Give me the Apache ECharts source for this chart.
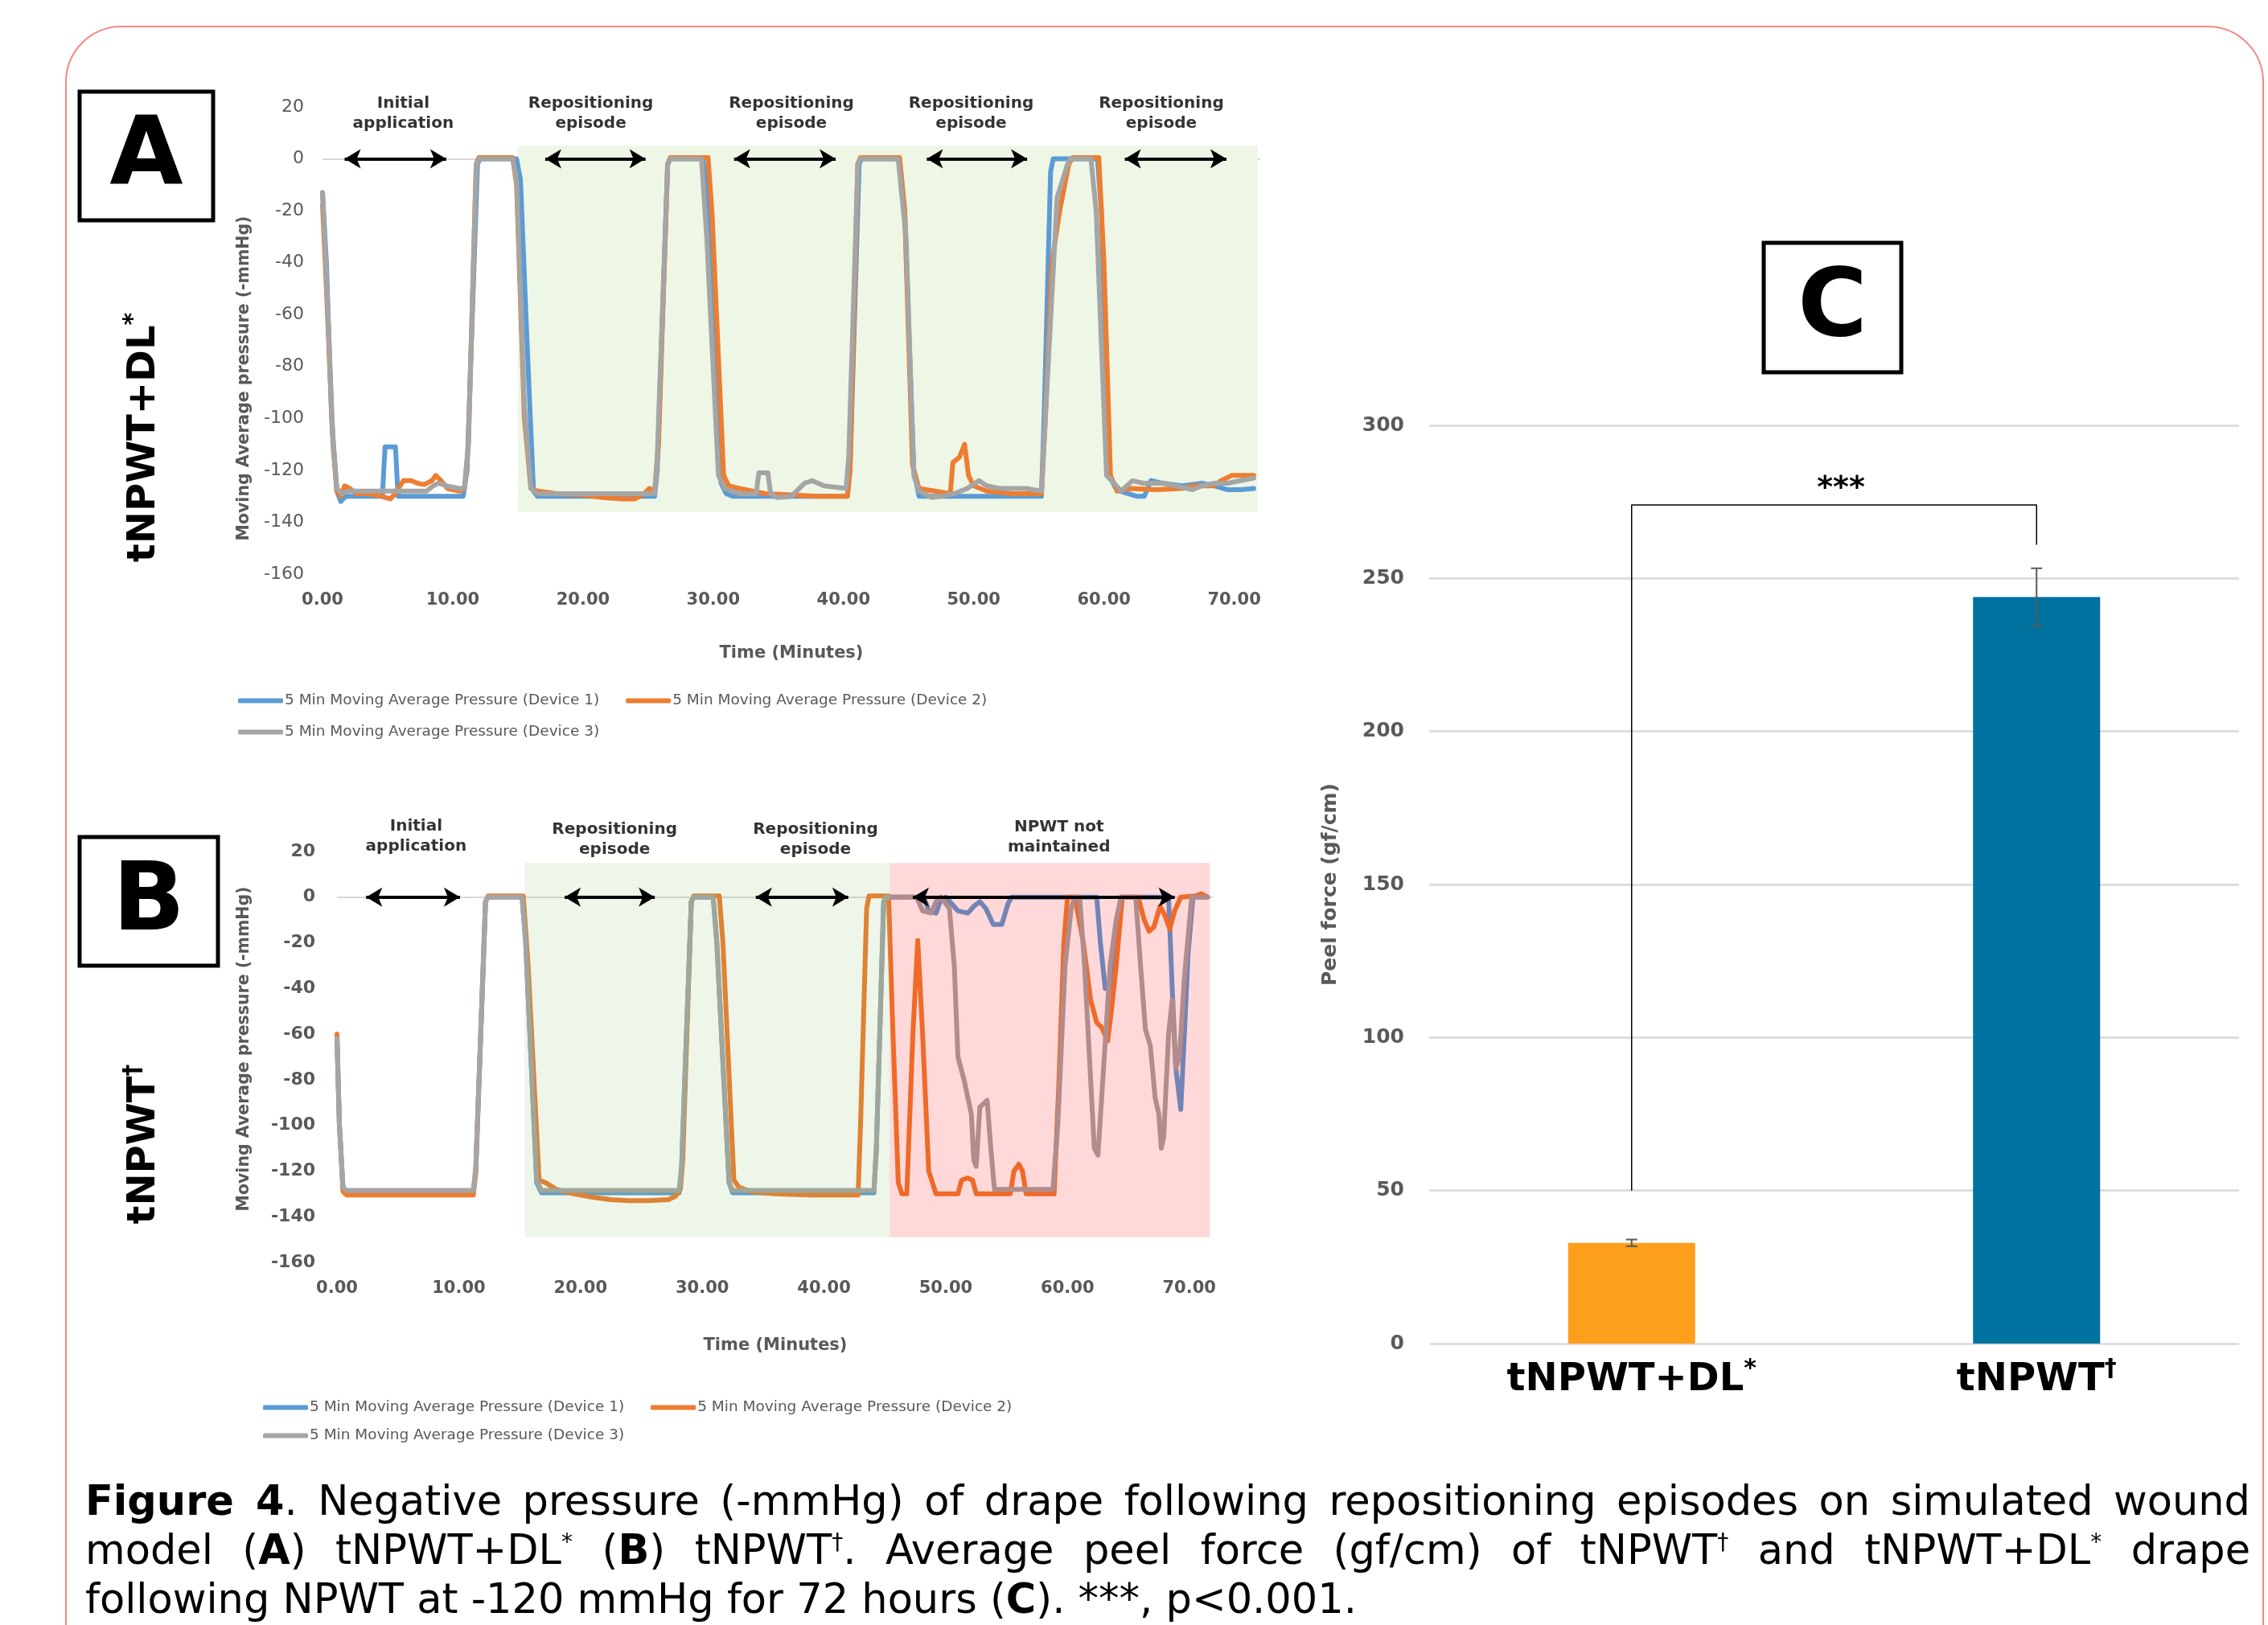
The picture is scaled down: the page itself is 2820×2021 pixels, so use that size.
<!DOCTYPE html>
<html>
<head>
<meta charset="utf-8">
<title>Figure 4</title>
<script src="https://cdn.jsdelivr.net/npm/echarts@6/dist/echarts.min.js"></script>
<style>
  html, body { margin: 0; padding: 0; background: #fff; }
  #frame {
    position: absolute; left: 81px; top: 32px; width: 2734px; height: 2100px;
    border: 2px solid #f08a84; border-radius: 70px; box-sizing: border-box;
  }
  #chart { position: absolute; left: 0; top: 0; width: 2820px; height: 2021px; }
  #caption {
    position: absolute; left: 106px; top: 1836px; width: 2692px;
    font-family: "DejaVu Sans"; font-size: 51px; line-height: 61px; color: #000;
  }
  #caption .ln { text-align: justify; text-align-last: justify; }
  #caption .last { text-align-last: left; }
  #caption .nb { display: inline-block; }
  #caption sup { font-size: 0.55em; vertical-align: super; line-height: 0; }
</style>
</head>
<body>
<div id="frame"></div>
<div id="chart"></div>
<div id="caption">
  <div class="ln"><b>Figure 4</b>. Negative pressure (-mmHg) of drape following repositioning episodes on simulated wound</div>
  <div class="ln">model (<b>A</b>) <span class="nb">tNPWT+DL<sup>*</sup></span> (<b>B</b>) <span class="nb">tNPWT<sup>†</sup>.</span> Average peel force (gf/cm) of <span class="nb">tNPWT<sup>†</sup></span> and <span class="nb">tNPWT+DL<sup>*</sup></span> drape</div>
  <div class="ln last">following NPWT at -120 mmHg for 72 hours (<b>C</b>). ***, p&lt;0.001.</div>
</div>
<script>
var FONT = "DejaVu Sans";
var GRAY_TXT = "#595959";

var devNames = [
  "5 Min Moving Average Pressure (Device 1)",
  "5 Min Moving Average Pressure (Device 2)",
  "5 Min Moving Average Pressure (Device 3)"
];
var devColors = ["#5b9bd5", "#ed7d31", "#a5a5a5"];

var timeTicks = [0, 10, 20, 30, 40, 50, 60, 70];
var pressureTicks = [-160, -140, -120, -100, -80, -60, -40, -20, 0, 20];

// panel A : tNPWT+DL*  [minutes, -mmHg]
var aDev1 = [[0,-13],[0.3,-40],[0.7,-100],[1.1,-128],[1.4,-132],[1.8,-130],[3,-130],[4.6,-130],[4.8,-111],[5.6,-111],[5.8,-130],[8,-130],
  [10.8,-130],[11.1,-120],[11.9,-2],[12.1,0],[14.9,0],[15.2,-8],[15.7,-70],[16.2,-128],[16.5,-130],[20,-130],[25.5,-130],[25.7,-120],
  [26.5,-2],[26.7,0],[29.2,0],[29.5,-10],[30.6,-125],[31,-129],[31.5,-130],[36,-130],[40.3,-130],[40.5,-120],[41.2,-2],[41.4,0],
  [44.3,0],[44.7,-20],[45.4,-120],[45.8,-130],[50,-130],[55.2,-130],[55.4,-100],[55.9,-5],[56.1,0],[59.5,0],[59.8,-20],[60.4,-122],
  [60.8,-126],[61.2,-128],[62.5,-130],[63.1,-130],[63.6,-124],[64.5,-125],[66,-126],[67.5,-125],[68.5,-126],[69.5,-127.5],[70.5,-127.5],[71.5,-127]];
var aDev2 = [[0,-18],[0.3,-50],[0.8,-110],[1.1,-128],[1.4,-130],[1.7,-126],[2.1,-127],[2.6,-129],[3.5,-129],[4.5,-130],[5.2,-131],[5.6,-129],
  [6.2,-124],[6.8,-124],[7.3,-125],[7.8,-125.5],[8.4,-124],[8.7,-122],[9.1,-124],[9.6,-127],[10.5,-128],[10.9,-127],[11.2,-110],[11.8,-2],
  [12,0.5],[14.6,0.5],[14.9,-10],[15.5,-100],[16,-127],[16.5,-128],[18,-129],[20,-129.5],[21.5,-130.5],[23,-131],[24,-131],[24.7,-129],
  [25.1,-127],[25.5,-128],[25.8,-110],[26.5,-2],[26.7,0.5],[29.6,0.5],[29.9,-20],[30.8,-122],[31.2,-126],[32,-127],[33,-128],[34,-129],
  [36,-129.5],[38,-130],[40.3,-130],[40.5,-120],[41.1,-2],[41.3,0.5],[44.3,0.5],[44.7,-20],[45.3,-118],[45.8,-127],[47,-128],[48.2,-129],
  [48.4,-117],[48.9,-115],[49.3,-110],[49.6,-122],[50,-126],[51,-128],[53,-129],[55.2,-129],[55.5,-100],[56,-40],[56.6,-20],[57.3,-2],
  [57.6,0.5],[59.6,0.5],[60,-40],[60.5,-122],[61,-128],[62,-127],[64,-127.5],[66,-127],[67,-126],[68.4,-126],[69,-124],[69.8,-122],[71.5,-122]];
var aDev3 = [[0,-13],[0.3,-45],[0.8,-108],[1.1,-127],[1.5,-129],[2,-128],[4,-128],[6,-128],[8,-128],[8.5,-126],[8.9,-125],[9.5,-126],
  [10.5,-127],[10.9,-127],[11.2,-110],[11.8,-2],[12,0],[14.6,0],[14.9,-8],[15.5,-95],[16,-127],[16.5,-129],[20,-129],[25.5,-129],
  [25.7,-115],[26.5,-2],[26.7,0],[29.1,0],[29.5,-30],[30.4,-122],[30.9,-127],[32,-129],[33.3,-129],[33.5,-121],[34.2,-121],[34.4,-129],
  [34.9,-130.5],[36,-130],[37,-125],[37.6,-124],[38.5,-126],[40.2,-127],[40.4,-115],[41.1,-2],[41.3,0],[44.2,0],[44.8,-30],[45.4,-122],
  [45.8,-128],[46.8,-130.5],[47.5,-130],[48.5,-129],[49.5,-127],[50.4,-124],[51,-126],[52,-127],[54,-127],[55.2,-128],[55.5,-100],
  [56.4,-15],[57.2,-2],[57.4,0],[59,0],[59.4,-20],[60.2,-122],[60.6,-124],[61.3,-128],[62.2,-124],[63,-125],[64.5,-125],[65.5,-126],
  [66.8,-127.5],[67.5,-126],[68.5,-125],[69.5,-125],[70.5,-124],[71.5,-123]];

// panel B : tNPWT†
var bDev1 = [[0,-61],[0.2,-100],[0.5,-128],[0.8,-129.5],[5,-129.5],[11.2,-129.5],[11.4,-120],[12.2,-2],[12.4,0],[15.2,0],[15.5,-20],
  [16.4,-125],[16.8,-129.5],[20,-129.5],[28.1,-129.5],[28.3,-120],[29.1,-2],[29.3,0],[30.9,0],[31.2,-20],[32.2,-125],[32.5,-129.5],
  [38,-129.5],[44.1,-129.5],[44.3,-110],[44.9,-2],[45.1,0],[48.2,0],[48.6,-6],[49.2,-7],[49.6,-1],[50,0],[50.5,-3],[51,-6],[51.8,-7],
  [52.3,-4],[52.8,-2],[53.3,-5],[53.9,-12],[54.6,-12],[55.1,-3],[55.4,0],[62.4,0],[62.7,-20],[63.1,-40],[63.6,-40],[64,-20],[64.4,0],
  [68.3,0],[68.6,-40],[68.9,-75],[69.3,-93],[69.6,-60],[69.9,-25],[70.3,0],[71.5,0]];
var bDev2 = [[0,-60],[0.2,-100],[0.5,-129],[0.8,-130.5],[5,-130.5],[11.2,-130.5],[11.4,-120],[12.2,-2],[12.4,0.5],[15.3,0.5],[15.7,-30],
  [16.6,-124],[17.1,-125],[18,-128],[19.5,-130],[21,-131.5],[22.5,-132.5],[24,-133],[25.5,-133],[27.2,-132.5],[27.8,-131],[28.2,-128],
  [28.4,-115],[29.1,-2],[29.3,0.5],[31.4,0.5],[31.7,-20],[32.6,-124],[33,-127],[34,-129],[36,-130],[39,-130.5],[42.8,-130.5],[43,-100],
  [43.5,-5],[43.7,0.5],[45.3,0.5],[45.6,-50],[46.1,-125],[46.4,-130],[46.8,-130],[47.3,-60],[47.7,-19],[48.1,-60],[48.6,-120],[49.2,-130],
  [51,-130],[51.3,-124],[51.8,-123],[52.2,-124],[52.5,-130],[55.3,-130],[55.6,-120],[56,-117],[56.3,-120],[56.6,-130],[58.9,-130],
  [59.3,-80],[59.7,-20],[60,0],[60.6,0],[61.3,-20],[61.9,-45],[62.4,-55],[62.8,-57],[63.3,-63],[63.6,-50],[64,-30],[64.5,0],[65.8,0],
  [66.3,-10],[66.7,-15],[67.1,-13],[67.6,-4],[68,-8],[68.4,-14],[68.8,-6],[69.3,0],[70.5,0.5],[71,1.5],[71.5,0]];
var bDev3 = [[0,-62],[0.2,-100],[0.5,-127],[0.8,-128.5],[5,-128.5],[11.2,-128.5],[11.4,-118],[12.2,-2],[12.4,0],[15.2,0],[15.5,-20],
  [16.4,-124],[16.8,-128.5],[22,-128.5],[28.1,-128.5],[28.3,-118],[29.1,-2],[29.3,0],[30.9,0],[31.2,-20],[32.2,-125],[32.5,-128.5],
  [38,-128.5],[44.1,-128.5],[44.3,-110],[44.9,-2],[45.1,0],[47.6,0],[48.1,-6],[48.8,-7],[49.2,-2],[49.6,0],[50.3,-5],[50.7,-30],[51,-70],
  [51.5,-80],[52.1,-95],[52.3,-115],[52.5,-118],[52.8,-92],[53.4,-89],[53.7,-110],[54,-128],[56,-128],[58.8,-128],[59.2,-100],[59.8,-30],
  [60.3,-5],[60.6,0],[61,0],[61.4,-30],[61.9,-80],[62.2,-110],[62.5,-113],[62.9,-80],[63.5,-30],[64,-10],[64.4,0],[65.6,0],[66,-30],
  [66.4,-58],[66.8,-65],[67.2,-88],[67.5,-95],[67.7,-110],[67.9,-105],[68.3,-60],[68.6,-45],[68.9,-75],[69.2,-70],[69.6,-35],[70.2,0],[71.5,0]];

// shaded phases [x0, x1, y0, y1]
var shadeA = [[15, 71.8, -136, 5]];
var shadeAColors = ["#eef6e5"];
var shadeB = [[15.4, 45.4, -149, 15], [45.4, 71.7, -149, 15]];
var shadeBColors = ["rgba(112,173,71,0.12)", "rgba(255,0,0,0.15)"];

// double arrows (tip to tip, minutes) at 0 mmHg
var arrowsA = [[1.1, 10.1], [16.5, 25.4], [31.0, 40.0], [45.8, 54.7], [61.0, 70.0]];
var arrowsB = [[1.8, 10.7], [18.1, 26.7], [33.8, 42.6], [46.7, 69.4]];

var labelsA = [[6.2, 17.4, "Initial\napplication"], [20.6, 17.4, "Repositioning\nepisode"], [36.0, 17.4, "Repositioning\nepisode"],
  [49.8, 17.4, "Repositioning\nepisode"], [64.4, 17.4, "Repositioning\nepisode"]];
var labelsB = [[6.5, 26.6, "Initial\napplication"], [22.8, 25.1, "Repositioning\nepisode"], [39.3, 25.1, "Repositioning\nepisode"],
  [59.3, 26.1, "NPWT not\nmaintained"]];

// panel C : peel force
var peelGroups = ["tNPWT+DL*", "tNPWT†"];
var peelMean = [32.9, 243.9];
var peelErr = [1.1, 9.4];
var peelColors = ["#fd9e1c", "#00729f"];
var peelTicks = [0, 50, 100, 150, 200, 250, 300];
var bracket = [[0, 50], [0, 274], [1, 274], [1, 261]];

var HEAD = 0.6;

function timeAxis(grid, gap) {
  return {
    type: "value", gridIndex: grid, min: 0, max: 72, interval: timeTicks[1] - timeTicks[0],
    axisLine: { show: false }, axisTick: { show: false }, splitLine: { show: false },
    axisLabel: {
      margin: 22, color: GRAY_TXT, fontSize: 21, fontWeight: "bold", fontFamily: FONT,
      formatter: function (v) { return timeTicks.indexOf(v) >= 0 ? v.toFixed(2) : ""; }
    },
    name: "Time (Minutes)", nameLocation: "middle", nameGap: gap,
    nameTextStyle: { color: GRAY_TXT, fontSize: 21, fontWeight: "bold", fontFamily: FONT }
  };
}

function pressureAxis(grid, bold, margin, gap, pad) {
  return {
    type: "value", gridIndex: grid, min: pressureTicks[0], max: pressureTicks[pressureTicks.length - 1],
    interval: pressureTicks[1] - pressureTicks[0],
    axisLine: { show: false }, axisTick: { show: false },
    splitLine: { show: true, lineStyle: { width: 2,
      color: pressureTicks.map(function (v) { return v === 0 ? "#d9d9d9" : "rgba(0,0,0,0)"; }) } },
    axisLabel: { margin: margin, color: GRAY_TXT, fontSize: 22, fontWeight: bold ? "bold" : "normal", fontFamily: FONT },
    name: "Moving Average pressure (-mmHg)", nameLocation: "middle", nameGap: gap,
    nameTextStyle: { color: GRAY_TXT, fontSize: 20.5, fontWeight: "bold", fontFamily: FONT, padding: pad }
  };
}

function devSeries(data, i, xi) {
  return {
    type: "line", name: devNames[i], xAxisIndex: xi, yAxisIndex: xi, data: data,
    symbol: "none", showSymbol: false, silent: true, z: 2,
    lineStyle: { color: devColors[i], width: 6, join: "round", cap: "round" },
    itemStyle: { color: devColors[i] }
  };
}

function shadeItem(params, api) {
  var p0 = api.coord([api.value(0), api.value(3)]);
  var p1 = api.coord([api.value(1), api.value(2)]);
  return {
    type: "rect",
    shape: { x: p0[0], y: p0[1], width: p1[0] - p0[0], height: p1[1] - p0[1] },
    style: { fill: api.visual("color") }
  };
}

function shadeSeries(list, colors, xi, z) {
  return {
    type: "custom", xAxisIndex: xi, yAxisIndex: xi, z: z, silent: true,
    renderItem: shadeItem, encode: { x: [0, 1], y: [2, 3] },
    data: list.map(function (s, k) { return { value: s, itemStyle: { color: colors[k] } }; })
  };
}

function arrowSeries(list, xi) {
  return {
    type: "line", xAxisIndex: xi, yAxisIndex: xi, data: [], z: 5,
    markLine: {
      silent: true, z: 6, symbol: ["arrow", "arrow"], symbolSize: [18, 20], label: { show: false },
      lineStyle: { color: "#000", width: 4, type: "solid" },
      emphasis: { disabled: true },
      data: list.map(function (a) { return [{ coord: [a[0] + HEAD, 0] }, { coord: [a[1] - HEAD, 0] }]; })
    }
  };
}

function labelSeries(list, xi) {
  return {
    type: "scatter", xAxisIndex: xi, yAxisIndex: xi, symbolSize: 1, clip: false, silent: true, z: 6,
    itemStyle: { color: "rgba(0,0,0,0)" },
    label: { show: true, position: "inside", formatter: "{b}", color: "#000", fontSize: 20, fontWeight: "bold",
      fontFamily: FONT, lineHeight: 25, align: "center" },
    data: list.map(function (d) { return { name: d[2], value: [d[0], d[1]] }; })
  };
}

function legendRow(left, top, names) {
  return {
    left: left, top: top, orient: "horizontal", data: names, selectedMode: false,
    icon: "roundRect", itemWidth: 56, itemHeight: 6, itemGap: 33,
    textStyle: { color: GRAY_TXT, fontSize: 18.5, fontFamily: FONT, padding: [0, 0, 0, -3] }
  };
}

function errItem(params, api) {
  var x = api.value(0);
  var lo = api.coord([x, api.value(1)]);
  var hi = api.coord([x, api.value(2)]);
  var w = 7, st = { stroke: GRAY_TXT, lineWidth: 2 };
  return { type: "group", children: [
    { type: "line", shape: { x1: hi[0], y1: hi[1], x2: lo[0], y2: lo[1] }, style: st },
    { type: "line", shape: { x1: hi[0] - w, y1: hi[1], x2: hi[0] + w, y2: hi[1] }, style: st },
    { type: "line", shape: { x1: lo[0] - w, y1: lo[1], x2: lo[0] + w, y2: lo[1] }, style: st }
  ] };
}

function boxLabel(x, y, w, h, letter) {
  return { type: "group", children: [
    { type: "rect", shape: { x: x, y: y, width: w, height: h }, style: { fill: "#fff", stroke: "#000", lineWidth: 5 } },
    { type: "text", x: x + w / 2, y: y + h / 2 + 4,
      style: { text: letter, fill: "#000", font: "bold 118px '" + FONT + "'", align: "center", verticalAlign: "middle" } }
  ] };
}

function sideTitle(cx, cy, main, sup) {
  return {
    type: "text", x: cx, y: cy, rotation: Math.PI / 2,
    style: {
      text: "{m|" + main + "}{s|" + sup + "}", align: "center", verticalAlign: "middle",
      rich: {
        m: { fontSize: 48, fontWeight: "bold", fontFamily: FONT, fill: "#000", lineHeight: 58 },
        s: { fontSize: 30, fontWeight: "bold", fontFamily: FONT, fill: "#000", lineHeight: 30, verticalAlign: "top" }
      }
    }
  };
}

var myChart = echarts.init(document.getElementById("chart"), null, { renderer: "canvas" });

var option = {
  animation: false,
  backgroundColor: "transparent",
  grid: [
    { left: 401, top: 133, width: 1166, height: 581, outerBoundsMode: "none" },
    { left: 419, top: 1059, width: 1090, height: 511, outerBoundsMode: "none" },
    { left: 1777, top: 529, width: 1007, height: 1142, outerBoundsMode: "none" }
  ],
  legend: [
    legendRow(291, 857, [devNames[0], devNames[1]]),
    legendRow(291, 896, [devNames[2]]),
    legendRow(322, 1736, [devNames[0], devNames[1]]),
    legendRow(322, 1771, [devNames[2]])
  ],
  xAxis: [
    timeAxis(0, 88),
    timeAxis(1, 93),
    {
      type: "category", gridIndex: 2, data: peelGroups,
      axisLine: { show: false }, axisTick: { show: false },
      axisLabel: {
        margin: 17, interval: 0,
        formatter: function (v) { return "{m|" + v.slice(0, -1) + "}{s|" + v.slice(-1) + "}"; },
        rich: {
          m: { fontSize: 48, fontWeight: "bold", fontFamily: FONT, color: "#000", lineHeight: 58 },
          s: { fontSize: 30, fontWeight: "bold", fontFamily: FONT, color: "#000", lineHeight: 30, verticalAlign: "top" }
        }
      }
    }
  ],
  yAxis: [
    pressureAxis(0, false, 23, 87, [0, 94, 0, 0]),
    pressureAxis(1, true, 27, 105, [0, 0, 0, 20]),
    {
      type: "value", gridIndex: 2, min: peelTicks[0], max: peelTicks[peelTicks.length - 1], interval: peelTicks[1] - peelTicks[0],
      axisLine: { show: false }, axisTick: { show: false },
      splitLine: { show: true, lineStyle: { color: "#d9d9d9", width: 2.5 } },
      axisLabel: { margin: 31, color: GRAY_TXT, fontSize: 25, fontWeight: "bold", fontFamily: FONT },
      name: "Peel force (gf/cm)", nameLocation: "middle", nameGap: 110,
      nameTextStyle: { color: GRAY_TXT, fontSize: 25, fontWeight: "bold", fontFamily: FONT }
    }
  ],
  series: [
    shadeSeries(shadeA, shadeAColors, 0, 1),
    devSeries(aDev1, 0, 0),
    devSeries(aDev2, 1, 0),
    devSeries(aDev3, 2, 0),
    arrowSeries(arrowsA, 0),
    labelSeries(labelsA, 0),

    devSeries(bDev1, 0, 1),
    devSeries(bDev2, 1, 1),
    devSeries(bDev3, 2, 1),
    shadeSeries(shadeB, shadeBColors, 1, 3),
    arrowSeries(arrowsB, 1),
    labelSeries(labelsB, 1),

    {
      type: "bar", xAxisIndex: 2, yAxisIndex: 2, barWidth: 158, silent: true, z: 2,
      data: peelMean.map(function (v, k) { return { value: v, itemStyle: { color: peelColors[k] } }; })
    },
    {
      type: "custom", xAxisIndex: 2, yAxisIndex: 2, z: 3, silent: true, renderItem: errItem,
      encode: { x: 0, y: [1, 2] },
      data: peelMean.map(function (v, k) { return [k, v - peelErr[k], v + peelErr[k]]; })
    },
    {
      type: "line", xAxisIndex: 2, yAxisIndex: 2, z: 4, silent: true, data: bracket,
      symbol: "none", lineStyle: { color: "#000", width: 1.5 }
    }
  ],
  graphic: [
    boxLabel(99, 114, 166, 160, "A"),
    boxLabel(99, 1041, 172, 160, "B"),
    boxLabel(2193, 302, 171, 161, "C"),
    sideTitle(180, 544, "tNPWT+DL", "*"),
    sideTitle(180, 1423, "tNPWT", "†"),
    { type: "text", x: 2289, y: 608,
      style: { text: "***", fill: "#000", font: "bold 38px '" + FONT + "'", align: "center", verticalAlign: "middle" } }
  ]
};

myChart.setOption(option, true);
</script>
</body>
</html>
